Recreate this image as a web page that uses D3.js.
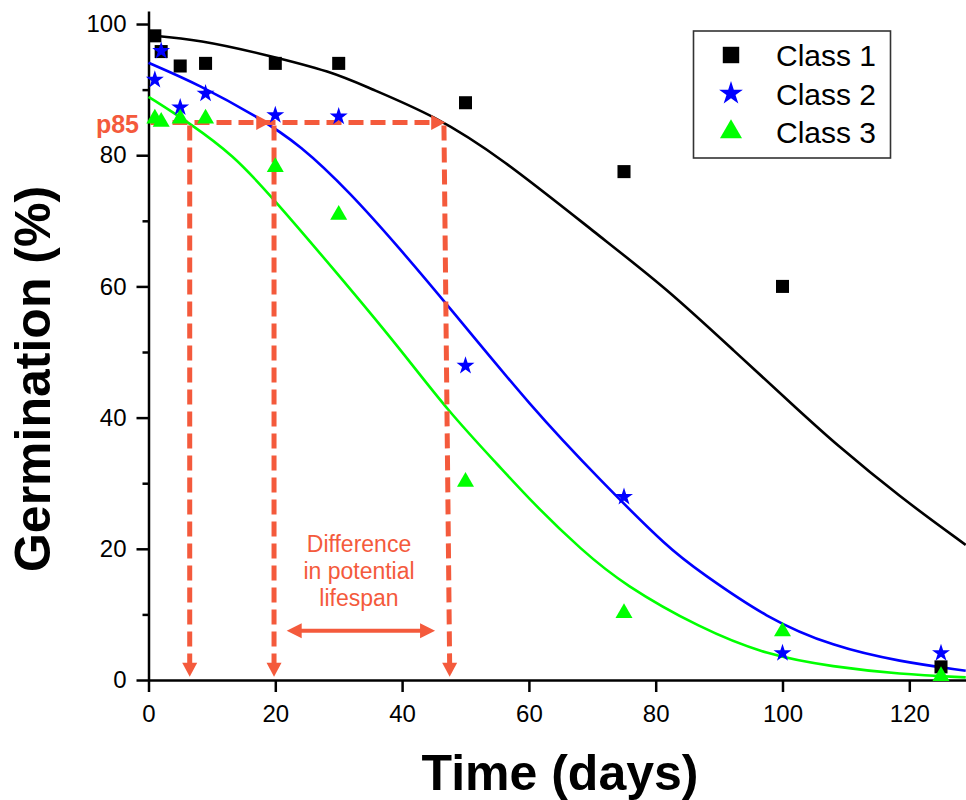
<!DOCTYPE html>
<html>
<head>
<meta charset="utf-8">
<script src="https://cdn.jsdelivr.net/npm/d3@7"></script>
<style>
  body { margin: 0; background: #fff; }
  svg { display: block; }
  text { font-family: "Liberation Sans", Arial, sans-serif; }
</style>
</head>
<body>
<svg id="chart" width="966" height="800"></svg>
<script>
// measured germination (%) per storage day
var days = [1, 2, 5, 9, 20, 30, 50, 75, 100, 125]
var class1 = [98.2, 95.8, 93.6, 94.0, 94.0, 94.0, 88.0, 77.5, 60.0, 2.0]
var class2 = [91.5, 95.9, 87.3, 89.4, 86.1, 85.9, 47.9, 27.9, 4.1, 4.1]
var class3 = [85.6, 85.1, 85.6, 85.6, 78.2, 70.9, 30.2, 10.2, 7.4, 0.6]

// fitted curves
var fit1Days = [0, 8, 18.6, 29, 34.4, 45, 55.4, 71.2, 81.7, 92.2, 102.8, 108, 118.5, 128.9]
var fit1 = [98.3, 97.6, 95.3, 92.7, 90.4, 86.1, 79.8, 67.6, 59.7, 50.3, 40.9, 36.3, 27.9, 20.6]
var fit2Days = [0, 8.1, 17.1, 23.9, 31.8, 39.6, 46.7, 60.7, 71.2, 82.3, 87, 97.5, 108, 118.5, 128.9]
var fit2 = [94.1, 90.7, 85.9, 81.6, 74.3, 65.8, 57.7, 41.2, 30.5, 19.8, 16.5, 9.4, 5.1, 2.8, 1.4]
var fit3Days = [0, 6.5, 13.4, 19.4, 29.5, 39.6, 47.3, 55.4, 60.7, 68.3, 75, 87, 97.5, 108, 118.5, 128.9]
var fit3 = [88.9, 84.9, 80.0, 73.7, 62.3, 50.6, 40.9, 32.5, 26.9, 19.8, 14.5, 7.9, 3.8, 2.0, 0.9, 0.4]

// p85 annotation
var p85Level = 85
var p85Top = [6.5, 19.8, 46.6]      // where each curve crosses 85 %
var p85Bottom = [6.5, 19.8, 47.5]
var p85ArrowTips = [19.2, 46.8]
var spanDays = [21.8, 45.2]
var spanLevel = 7.5
var spanLines = ['Difference', 'in potential', 'lifespan']

var xTicks = [0, 20, 40, 60, 80, 100, 120]
var yTicks = [0, 20, 40, 60, 80, 100]
var yMinor = [10, 30, 50, 70, 90]

var legendNames = ['Class 1', 'Class 2', 'Class 3']
var colors = ['#000000', '#0000ff', '#00ff00']
var orange = '#f45a3c'

var svg = d3.select('#chart')

var x = d3.scaleLinear().domain([0, 130]).range([148.5, 972.7])
var y = d3.scaleLinear().domain([0, 102]).range([680, 10.9])

// axes
svg.append('g')
  .attr('transform', 'translate(0,' + y(0) + ')')
  .call(d3.axisBottom(x).tickValues(xTicks).tickSize(12).tickSizeOuter(0).tickPadding(13))
svg.append('g')
  .attr('transform', 'translate(' + x(0) + ',0)')
  .call(d3.axisLeft(y).tickValues(yTicks).tickSize(12).tickSizeOuter(0).tickPadding(10))
svg.append('g')
  .attr('transform', 'translate(' + x(0) + ',0)')
  .call(d3.axisLeft(y).tickValues(yMinor).tickSize(6).tickFormat(''))
  .select('.domain').remove()

svg.selectAll('.domain, .tick line')
  .attr('stroke', '#000')
  .attr('stroke-width', 2.5)
svg.selectAll('.tick text')
  .attr('font-size', 24)
  .attr('font-family', '"Liberation Sans", Arial, sans-serif')
  .attr('fill', '#000')

// axis titles
svg.append('text')
  .attr('x', 560).attr('y', 790)
  .attr('text-anchor', 'middle')
  .attr('font-size', 50).attr('font-weight', 'bold')
  .text('Time (days)')
svg.append('text')
  .attr('transform', 'translate(50,379) rotate(-90)')
  .attr('text-anchor', 'middle')
  .attr('font-size', 50).attr('font-weight', 'bold')
  .text('Germination (%)')

// fitted curves
var line = d3.line()
  .x(d => x(d[0]))
  .y(d => y(d[1]))
  .curve(d3.curveBasis)

var fits = [d3.zip(fit1Days, fit1), d3.zip(fit2Days, fit2), d3.zip(fit3Days, fit3)]
fits.forEach((f, i) => {
  svg.append('path')
    .attr('d', line(f))
    .attr('fill', 'none')
    .attr('stroke', colors[i])
    .attr('stroke-width', 2.6)
})

// markers
var shapes = [d3.symbolSquare, d3.symbolStar, d3.symbolTriangle]
var plotSizes = [170, 100, 125]
var legendSizes = [270, 175, 210]
var series = [class1, class2, class3]

// annotation: dashed p85 guides
var ann = svg.append('g')

function arrowHead(tx, ty, dir, len, half) {
  // triangle with its tip at (tx, ty)
  var pts
  if (dir === 'right') pts = [[tx, ty], [tx - len, ty - half], [tx - len, ty + half]]
  else if (dir === 'left') pts = [[tx, ty], [tx + len, ty - half], [tx + len, ty + half]]
  else pts = [[tx, ty], [tx - half, ty - len], [tx + half, ty - len]]
  return 'M' + pts.map(p => p.join(',')).join('L') + 'Z'
}

var hEnd = p85ArrowTips[p85ArrowTips.length - 1]
ann.append('line')
  .attr('x1', x(0) + 2).attr('x2', x(hEnd) - 12)
  .attr('y1', y(p85Level)).attr('y2', y(p85Level))
  .attr('stroke', orange).attr('stroke-width', 5)
  .attr('stroke-dasharray', '15,7')

p85Top.forEach((t, i) => {
  var bx = x(p85Bottom[i])
  ann.append('line')
    .attr('x1', x(t)).attr('y1', y(p85Level) + 3)
    .attr('x2', bx).attr('y2', y(0.5) - 12)
    .attr('stroke', orange).attr('stroke-width', 5)
    .attr('stroke-dasharray', '15,7')
  ann.append('path')
    .attr('d', arrowHead(bx, y(0.5), 'down', 14, 7.5))
    .attr('fill', orange)
})

p85ArrowTips.forEach(t => {
  ann.append('path')
    .attr('d', arrowHead(x(t), y(p85Level), 'right', 14, 7.5))
    .attr('fill', orange)
})

// difference arrow
ann.append('line')
  .attr('x1', x(spanDays[0]) + 12).attr('x2', x(spanDays[1]) - 12)
  .attr('y1', y(spanLevel)).attr('y2', y(spanLevel))
  .attr('stroke', orange).attr('stroke-width', 4)
ann.append('path')
  .attr('d', arrowHead(x(spanDays[0]), y(spanLevel), 'left', 15, 7.5))
  .attr('fill', orange)
ann.append('path')
  .attr('d', arrowHead(x(spanDays[1]), y(spanLevel), 'right', 15, 7.5))
  .attr('fill', orange)

spanLines.forEach((s, i) => {
  ann.append('text')
    .attr('x', 359).attr('y', 552 + i * 27)
    .attr('text-anchor', 'middle')
    .attr('font-size', 23)
    .attr('fill', orange)
    .text(s)
})

ann.append('text')
  .attr('x', 139).attr('y', 133)
  .attr('text-anchor', 'end')
  .attr('font-size', 25).attr('font-weight', 'bold')
  .attr('fill', orange)
  .text('p85')

series.forEach((vals, i) => {
  svg.append('g').selectAll('path')
    .data(d3.zip(days, vals))
    .join('path')
    .attr('transform', d => 'translate(' + x(d[0]) + ',' + y(d[1]) + ')')
    .attr('d', d3.symbol().type(shapes[i]).size(plotSizes[i]))
    .attr('fill', colors[i])
})

// legend
var legend = svg.append('g')
legend.append('rect')
  .attr('x', 693.5).attr('y', 31)
  .attr('width', 197).attr('height', 127)
  .attr('fill', '#fff')
  .attr('stroke', '#333').attr('stroke-width', 1.6)

legendNames.forEach((name, i) => {
  var cy = 55 + i * 38.5
  legend.append('path')
    .attr('transform', 'translate(731,' + cy + ')')
    .attr('d', d3.symbol().type(shapes[i]).size(legendSizes[i]))
    .attr('fill', colors[i])
  legend.append('text')
    .attr('x', 776).attr('y', cy + 11)
    .attr('font-size', 30)
    .text(name)
})
</script>
</body>
</html>
